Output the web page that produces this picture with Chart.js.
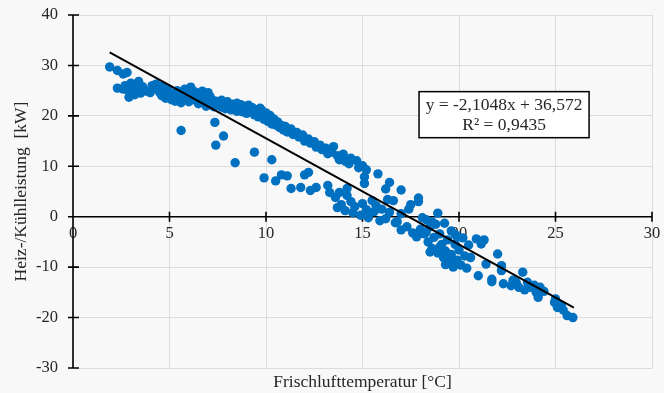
<!DOCTYPE html>
<html>
<head>
<meta charset="utf-8">
<script src="https://cdn.jsdelivr.net/npm/chart.js@4.4.1/dist/chart.umd.min.js"></script>
<style>
  html, body { margin: 0; padding: 0; background: #f8f8f8; }
  #wrap { width: 664px; height: 393px; }
</style>
</head>
<body>
<div id="wrap"><canvas id="chart"></canvas></div>
<script>
// Frischlufttemperatur [°C]
const tempX = [
  1.9, 2.3, 2.6, 2.8, 2.3, 2.6, 2.7, 2.9, 2.9, 3.0, 3.1, 3.2, 3.2, 3.4, 3.4, 3.5, 3.6, 3.7, 3.8, 4.0,
  4.1, 4.2, 4.3, 4.4, 4.5, 4.6, 4.6, 4.8, 4.8, 4.9, 5.0, 5.1, 5.2, 5.3, 5.3, 5.4, 5.5, 5.6, 5.6, 5.7,
  5.8, 5.9, 6.0, 6.0, 6.1, 6.2, 6.3, 6.4, 6.5, 6.6, 6.7, 6.8, 6.8, 6.9, 7.0, 7.0, 7.1, 7.2, 7.3, 7.4,
  7.5, 7.6, 7.7, 7.7, 7.8, 7.9, 8.0, 8.1, 8.2, 8.3, 8.4, 8.5, 8.5, 8.6, 8.7, 8.8, 8.9, 9.0, 9.0, 9.1,
  9.2, 9.3, 9.4, 9.5, 9.6, 9.6, 9.7, 9.8, 9.8, 9.9, 10.0, 10.0, 10.1, 10.2, 10.2, 10.3, 10.4, 10.5, 10.6, 10.7,
  10.8, 10.9, 11.0, 11.1, 11.3, 11.4, 11.6, 11.7, 11.9, 12.0, 12.2, 12.3, 12.5, 12.6, 12.8, 12.9, 13.1, 13.2, 13.4, 13.5,
  13.7, 13.8, 14.0, 14.1, 14.3, 14.4, 14.7, 14.8, 15.0, 15.2, 15.1, 15.1, 15.8, 16.2, 16.4, 17.0, 17.9,
  5.6, 7.35, 7.8, 7.4, 8.4, 9.4, 10.3, 9.9, 10.5, 10.8, 11.1, 11.3, 11.8, 12.0, 12.2, 12.3, 12.6, 13.2, 13.3, 13.6,
  13.8, 14.2, 14.2, 13.9, 14.1, 14.4, 14.5, 13.7, 14.6, 14.9, 15.0, 15.2, 15.3, 15.5, 15.6, 15.7, 15.9, 16.0, 16.2, 16.3,
  16.4, 16.6, 16.7, 16.8, 17.0, 17.0, 17.3, 17.4, 17.5, 17.6, 17.9, 17.8, 18.0, 18.1, 18.2, 18.3, 18.4, 18.5, 18.6, 18.7,
  18.8, 18.9, 18.9, 19.0, 19.1, 19.2, 19.25, 19.3, 19.4, 19.5, 19.6, 19.6, 19.7, 19.8, 19.9, 20.0, 20.1, 20.2, 20.3, 20.4,
  20.5, 20.6, 18.3, 18.6, 19.0, 18.5, 19.3, 19.8, 19.9, 20.9, 21.0, 21.15, 21.3, 21.4, 21.7, 22.0, 22.2, 22.2, 22.3, 22.7,
  22.96, 23.1, 23.3, 23.55, 23.7, 23.9, 24.0, 24.1, 24.2, 24.4, 24.95, 25.0, 25.1, 25.3, 25.4, 25.6, 25.9, 21.7, 22.8, 23.4
];
// Heiz-/Kühlleistung [kW]
const power = [
  29.7, 29.0, 28.3, 28.6, 25.5, 25.3, 26.0, 23.7, 24.8, 26.5, 25.0, 26.2, 24.2, 25.4, 26.8, 24.5, 25.8, 25.1, 24.9, 24.6,
  26.0, 25.6, 26.3, 25.2, 24.6, 24.0, 25.9, 23.5, 24.9, 25.4, 24.2, 23.2, 24.5, 23.8, 22.9, 25.0, 23.3, 24.6, 22.6, 23.9,
  25.3, 23.6, 24.1, 22.8, 25.7, 23.2, 24.8, 24.3, 22.4, 23.7, 24.9, 23.0, 24.3, 21.9, 24.6, 22.5, 23.8, 23.2, 21.8, 22.9,
  22.2, 22.6, 21.7, 23.1, 22.1, 21.4, 22.8, 21.8, 21.2, 22.3, 21.9, 22.5, 20.9, 21.5, 22.2, 20.8, 21.9, 21.3, 20.5, 22.1,
  20.9, 21.6, 20.2, 21.2, 20.7, 19.8, 21.5, 20.1, 21.0, 19.3, 19.6, 20.6, 18.9, 20.1, 19.2, 18.4, 19.4, 18.2, 18.8, 17.7,
  18.1, 17.2, 17.9, 16.8, 17.4, 16.3, 16.7, 15.8, 16.2, 15.0, 15.4, 14.6, 14.9, 13.8, 14.2, 13.3, 13.6, 12.5, 12.8, 13.9,
  12.1, 11.3, 12.4, 11.0, 10.5, 11.6, 11.1, 9.7, 10.1, 9.3, 7.9, 6.6, 8.5, 5.5, 6.8, 5.3, 3.7,
  17.1, 18.7, 16.0, 14.2, 10.7, 12.8, 11.3, 7.7, 7.1, 8.3, 8.1, 5.6, 5.8, 8.3, 8.8, 5.2, 5.8, 6.2, 4.8, 3.8,
  4.8, 4.2, 5.6, 2.4, 1.2, 3.0, 0.8, 1.8, 2.0, 0.3, 2.6, 1.4, -0.2, 3.2, 1.0, 2.2, -0.8, 1.5, -0.4, 3.4,
  0.9, 3.2, -1.2, -1.0, 0.6, -2.6, -2.0, 1.5, 2.4, -3.2, 3.0, -4.0, -2.5, -0.2, -3.4, -0.6, -5.0, -2.0, -6.3, -4.1,
  -1.5, 0.7, -7.2, -3.4, -5.5, -8.1, -1.3, -6.8, -4.6, -9.0, -2.8, -7.5, -10.0, -5.5, -8.6, -6.6, -9.6, -4.2, -7.8, -10.2,
  -5.6, -8.1, -3.0, -1.0, -6.0, -7.0, -9.5, -3.5, -4.0, -4.4, -11.7, -5.4, -4.6, -9.4, -12.4, -7.4, -9.7, -10.7, -13.3, -13.7,
  -13.0, -14.0, -11.0, -13.0, -14.0, -13.6, -15.0, -16.0, -14.0, -14.8, -17.0, -16.3, -18.0, -17.6, -18.5, -19.6, -20.0, -12.9, -12.6, -14.5
];
// lineare Trendlinie (Endpunkte)
const trendX = [1.9, 25.95];
const trendY = [32.57, -18.05];
const equationLines = ["y = -2,1048x + 36,572", "R\u00B2 = 0,9435"];

const serif = "'Liberation Serif', 'Times New Roman', serif";
const textColor = "#262626";
const points = tempX.map((x, i) => ({ x, y: power[i] }));
const trend = trendX.map((x, i) => ({ x, y: trendY[i] }));

// schwarze Achsen mit Teilstrichen durch den Nullpunkt
const axisCross = {
  id: "axisCross",
  beforeDatasetsDraw(chart) {
    const { ctx, chartArea, scales } = chart;
    const x0 = scales.x.getPixelForValue(0);
    const y0 = scales.y.getPixelForValue(0);
    ctx.save();
    ctx.strokeStyle = "#000";
    ctx.lineWidth = 1.6;
    ctx.beginPath();
    ctx.moveTo(x0, chartArea.top);
    ctx.lineTo(x0, chartArea.bottom);
    ctx.moveTo(chartArea.left, y0);
    ctx.lineTo(chartArea.right, y0);
    scales.y.ticks.forEach((t) => {
      const p = scales.y.getPixelForValue(t.value);
      ctx.moveTo(x0 - 5, p);
      ctx.lineTo(x0 + 6, p);
    });
    scales.x.ticks.forEach((t) => {
      const p = scales.x.getPixelForValue(t.value);
      ctx.moveTo(p, y0 - 5);
      ctx.lineTo(p, y0 + 5);
    });
    ctx.stroke();
    ctx.restore();
  },
};

// Textfeld mit Regressionsgleichung
const equationBox = {
  id: "equationBox",
  afterDraw(chart) {
    const { ctx, scales } = chart;
    const left = scales.x.getPixelForValue(17.93);
    const right = scales.x.getPixelForValue(26.74);
    const top = scales.y.getPixelForValue(24.8);
    const bottom = scales.y.getPixelForValue(15.67);
    ctx.save();
    ctx.fillStyle = "#fff";
    ctx.fillRect(left, top, right - left, bottom - top);
    ctx.strokeStyle = "#000";
    ctx.lineWidth = 1.5;
    ctx.strokeRect(left, top, right - left, bottom - top);
    ctx.fillStyle = textColor;
    ctx.font = "17.5px " + serif;
    ctx.textAlign = "center";
    ctx.textBaseline = "middle";
    const cx = (left + right) / 2;
    ctx.fillText(equationLines[0], cx, top + 14);
    ctx.fillText(equationLines[1], cx, top + 34);
    ctx.restore();
  },
};

new Chart(document.getElementById("chart"), {
  type: "scatter",
  data: {
    datasets: [
      {
        type: "line",
        data: trend,
        borderColor: "#000",
        borderWidth: 2,
        pointRadius: 0,
        fill: false,
        order: 0,
      },
      {
        data: points,
        backgroundColor: "#0070c0",
        borderWidth: 0,
        pointRadius: 4.7,
        order: 1,
      },
    ],
  },
  options: {
    responsive: true,
    maintainAspectRatio: false,
    animation: false,
    layout: { padding: { top: 15, right: 12, left: 0, bottom: 0 } },
    plugins: {
      legend: { display: false },
      tooltip: { enabled: false },
    },
    scales: {
      x: {
        type: "linear",
        position: { y: 0 },
        min: 0,
        max: 30,
        ticks: {
          stepSize: 5,
          color: textColor,
          padding: 0,
          font: { family: serif, size: 16.5 },
        },
        grid: { color: "#dcdcdc", lineWidth: 1, drawTicks: true, tickLength: 7, tickColor: "transparent" },
        border: { display: false },
      },
      x2: {
        type: "linear",
        position: "bottom",
        ticks: { display: false },
        grid: { display: false },
        border: { display: false },
        title: {
          display: true,
          text: "Frischlufttemperatur [°C]",
          color: textColor,
          font: { family: serif, size: 17.5 },
          padding: { top: 0, bottom: 0.5 },
        },
        afterFit(scale) {
          scale.height = 25;
        },
      },
      y: {
        min: -30,
        max: 40,
        ticks: {
          stepSize: 10,
          color: textColor,
          padding: 0,
          font: { family: serif, size: 16.5 },
        },
        grid: { color: "#dcdcdc", lineWidth: 1, drawTicks: true, tickLength: 15, tickColor: "transparent" },
        border: { display: false },
        title: {
          display: true,
          text: "Heiz-/Kühlleistung  [kW]",
          color: textColor,
          font: { family: serif, size: 17.5 },
          padding: { top: 10.5, bottom: 0 },
        },
        afterFit(scale) {
          scale.width = 73;
        },
      },
    },
  },
  plugins: [axisCross, equationBox],
});
</script>
</body>
</html>
